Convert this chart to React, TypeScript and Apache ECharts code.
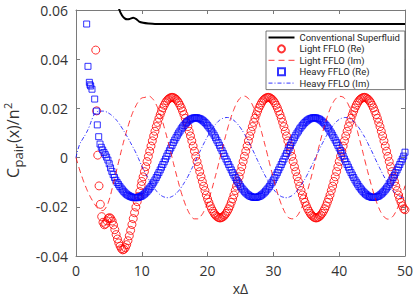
import React, { useEffect, useRef } from "react";
import * as echarts from "echarts";

const xTicks = [0, 10, 20, 30, 40, 50];
const yTicks = [-0.04, -0.02, 0, 0.02, 0.04, 0.06];
const seriesNames = [
  "Conventional Superfluid",
  "Light FFLO (Re)",
  "Light FFLO (Im)",
  "Heavy FFLO (Re)",
  "Heavy FFLO (Im)",
];

const conventional = [
  [6.2, 0.065], [6.6, 0.06], [7.0, 0.0578], [7.4, 0.0566], [7.8, 0.0562], [8.2, 0.0564], [8.7, 0.0568],
  [9.2, 0.0562], [9.6, 0.0553], [10.2, 0.0548], [11.0, 0.0545], [12.0, 0.0543], [15.0, 0.0543],
  [20, 0.0543], [30, 0.0543], [40, 0.0543], [50, 0.0543],
];

const lightRe = [
  [3.0, 0.0437], [3.14, 0.019], [3.3, 0.001], [3.5, -0.0115], [3.7, -0.019], [3.9, -0.024], [4.1, -0.0263], [4.3, -0.0273],
  [4.5, -0.027], [4.7, -0.0257], [4.9, -0.0247], [5.1, -0.0244], [5.3, -0.0248], [5.5, -0.0258], [5.7, -0.0274], [5.9, -0.0293],
  [6.1, -0.0313], [6.3, -0.0331], [6.5, -0.0347], [6.7, -0.036], [6.9, -0.037], [7.1, -0.0375], [7.3, -0.0373], [7.5, -0.0366],
  [7.7, -0.0354], [7.9, -0.0338], [8.1, -0.0318], [8.3, -0.0296], [8.5, -0.0272], [8.7, -0.0248], [8.9, -0.0224], [9.1, -0.0201],
  [9.3, -0.0179], [9.5, -0.0158], [9.7, -0.0138], [9.9, -0.0114],
  [10.0, -0.0097], [10.2, -0.0078], [10.4, -0.0057], [10.6, -0.0037], [10.8, -0.0016], [11.0, 0.0005], [11.2, 0.0026], [11.4, 0.0047],
  [11.6, 0.0068], [11.8, 0.0088], [12.0, 0.0107], [12.2, 0.0126], [12.4, 0.0143], [12.6, 0.016], [12.8, 0.0175], [13.0, 0.0189],
  [13.2, 0.0202], [13.4, 0.0213], [13.6, 0.0223], [13.8, 0.0231], [14.0, 0.0237], [14.2, 0.0241], [14.4, 0.0244],
  [14.6, 0.0245], [14.8, 0.0244], [15.0, 0.0241], [15.2, 0.0237], [15.4, 0.0231], [15.6, 0.0223], [15.8, 0.0213], [16.0, 0.0202],
  [16.2, 0.0189], [16.4, 0.0175], [16.6, 0.016], [16.8, 0.0143], [17.0, 0.0126], [17.2, 0.0107], [17.4, 0.0088], [17.6, 0.0068],
  [17.8, 0.0047], [18.0, 0.0026], [18.2, 0.0005], [18.4, -0.0016], [18.6, -0.0037], [18.8, -0.0057], [19.0, -0.0078], [19.2, -0.0097],
  [19.4, -0.0116], [19.6, -0.0134], [19.8, -0.0152], [20.0, -0.0168], [20.2, -0.0182], [20.4, -0.0196], [20.6, -0.0208], [20.8, -0.0218],
  [21.0, -0.0227], [21.2, -0.0234], [21.4, -0.0239], [21.6, -0.0243], [21.8, -0.0245],
  [22.0, -0.0245], [22.2, -0.0243], [22.4, -0.0239], [22.6, -0.0234], [22.8, -0.0227], [23.0, -0.0218], [23.2, -0.0208], [23.4, -0.0196],
  [23.6, -0.0182], [23.8, -0.0168], [24.0, -0.0152], [24.2, -0.0134], [24.4, -0.0116], [24.6, -0.0097], [24.8, -0.0078], [25.0, -0.0057],
  [25.2, -0.0037], [25.4, -0.0016], [25.6, 0.0005], [25.8, 0.0026], [26.0, 0.0047], [26.2, 0.0068], [26.4, 0.0088], [26.6, 0.0107],
  [26.8, 0.0126], [27.0, 0.0143], [27.2, 0.016], [27.4, 0.0175], [27.6, 0.0189], [27.8, 0.0202], [28.0, 0.0213], [28.2, 0.0223],
  [28.4, 0.0231], [28.6, 0.0237], [28.8, 0.0241], [29.0, 0.0244],
  [29.2, 0.0245], [29.4, 0.0244], [29.6, 0.0241], [29.8, 0.0237], [30.0, 0.0231], [30.2, 0.0223], [30.4, 0.0213], [30.6, 0.0202],
  [30.8, 0.0189], [31.0, 0.0175], [31.2, 0.016], [31.4, 0.0143], [31.6, 0.0126], [31.8, 0.0107], [32.0, 0.0088], [32.2, 0.0068],
  [32.4, 0.0047], [32.6, 0.0026], [32.8, 0.0005], [33.0, -0.0016], [33.2, -0.0037], [33.4, -0.0057], [33.6, -0.0078], [33.8, -0.0097],
  [34.0, -0.0116], [34.2, -0.0134], [34.4, -0.0152], [34.6, -0.0168], [34.8, -0.0182], [35.0, -0.0196], [35.2, -0.0208], [35.4, -0.0218],
  [35.6, -0.0227], [35.8, -0.0234], [36.0, -0.0239], [36.2, -0.0243], [36.4, -0.0245],
  [36.6, -0.0245], [36.8, -0.0243], [37.0, -0.0239], [37.2, -0.0234], [37.4, -0.0227], [37.6, -0.0218], [37.8, -0.0208], [38.0, -0.0196],
  [38.2, -0.0182], [38.4, -0.0168], [38.6, -0.0152], [38.8, -0.0134], [39.0, -0.0116], [39.2, -0.0097], [39.4, -0.0078], [39.6, -0.0057],
  [39.8, -0.0037], [40.0, -0.0016], [40.2, 0.0005], [40.4, 0.0026], [40.6, 0.0047], [40.8, 0.0068], [41.0, 0.0088], [41.2, 0.0107],
  [41.4, 0.0126], [41.6, 0.0143], [41.8, 0.016], [42.0, 0.0175], [42.2, 0.0189], [42.4, 0.0202], [42.6, 0.0213], [42.8, 0.0223],
  [43.0, 0.0231], [43.2, 0.0237], [43.4, 0.0241], [43.6, 0.0244],
  [43.8, 0.0245], [44.0, 0.0244], [44.2, 0.0241], [44.4, 0.0237], [44.6, 0.0231], [44.8, 0.0223], [45.0, 0.0213], [45.2, 0.0202],
  [45.4, 0.0189], [45.6, 0.0175], [45.8, 0.016], [46.0, 0.0143], [46.2, 0.0126], [46.4, 0.0107], [46.6, 0.0088], [46.8, 0.0068],
  [47.0, 0.0047], [47.2, 0.0026], [47.4, 0.0005], [47.6, -0.0016], [47.8, -0.0037], [48.0, -0.0057], [48.2, -0.0078], [48.4, -0.0097],
  [48.6, -0.0116], [48.8, -0.0134], [49.0, -0.0152], [49.2, -0.0168], [49.4, -0.0182], [49.6, -0.0196], [49.8, -0.0208], [50.0, -0.0212],
];

const lightIm = [
  [0, 0], [0.5, -0.0045], [1.0, -0.0085], [1.5, -0.012], [2.0, -0.015], [2.5, -0.0175], [3.0, -0.0196], [3.5, -0.021],
  [4.0, -0.0215], [4.5, -0.0205], [5.0, -0.0175], [5.5, -0.0125], [6.0, -0.007], [6.5, -0.0015], [7.0, 0.004], [7.5, 0.009],
  [8.0, 0.0135], [8.5, 0.0175], [9.0, 0.0205], [9.5, 0.0228], [10.0, 0.0242], [10.5, 0.0245], [11.0, 0.025], [11.5, 0.0243],
  [12.0, 0.0225], [12.5, 0.0196], [13.0, 0.0159], [13.5, 0.0114], [14.0, 0.0064], [14.5, 0.0011], [15.0, -0.0043], [15.5, -0.0094],
  [16.0, -0.0142], [16.5, -0.0182], [17.0, -0.0215], [17.5, -0.0237], [18.0, -0.0249], [18.5, -0.0249], [19.0, -0.0237], [19.5, -0.0215],
  [20.0, -0.0182], [20.5, -0.0142], [21.0, -0.0094], [21.5, -0.0043], [22.0, 0.0011], [22.5, 0.0064], [23.0, 0.0114], [23.5, 0.0159],
  [24.0, 0.0196], [24.5, 0.0225], [25.0, 0.0243], [25.5, 0.025], [26.0, 0.0245], [26.5, 0.0229], [27.0, 0.0203], [27.5, 0.0167],
  [28.0, 0.0123], [28.5, 0.0074], [29.0, 0.0022], [29.5, -0.0032], [30.0, -0.0084], [30.5, -0.0133], [31.0, -0.0175], [31.5, -0.0209],
  [32.0, -0.0233], [32.5, -0.0247], [33.0, -0.0249], [33.5, -0.024], [34.0, -0.022], [34.5, -0.019], [35.0, -0.015], [35.5, -0.0104],
  [36.0, -0.0053], [36.5, 0.0], [37.0, 0.0053], [37.5, 0.0104], [38.0, 0.015], [38.5, 0.019], [39.0, 0.022], [39.5, 0.024],
  [40.0, 0.0249], [40.5, 0.0247], [41.0, 0.0233], [41.5, 0.0209], [42.0, 0.0175], [42.5, 0.0133], [43.0, 0.0084], [43.5, 0.0032],
  [44.0, -0.0022], [44.5, -0.0074], [45.0, -0.0123], [45.5, -0.0167], [46.0, -0.0203], [46.5, -0.0229], [47.0, -0.0245], [47.5, -0.025],
  [48.0, -0.0243], [48.5, -0.0225], [49.0, -0.0196], [49.5, -0.0159], [50.0, -0.0114],
];

const heavyRe = [
  [1.62, 0.0543], [1.82, 0.0371], [2.03, 0.0306], [2.13, 0.0296], [2.23, 0.0291], [2.43, 0.0278], [2.84, 0.0238], [3.09, 0.0189],
  [3.24, 0.0133], [3.45, 0.0085], [3.65, 0.0055], [3.85, 0.0042], [4.05, 0.0031], [4.25, 0.0021], [4.45, 0.0012], [4.65, 0.0002],
  [4.85, -0.001], [5.05, -0.0025], [5.25, -0.0042], [5.45, -0.0056], [5.65, -0.0069], [5.85, -0.0081], [6.05, -0.0092], [6.25, -0.0101],
  [6.45, -0.0109], [6.65, -0.0117], [6.85, -0.0124], [7.05, -0.0131], [7.25, -0.0137], [7.45, -0.0143], [7.65, -0.0148], [7.85, -0.0152],
  [8.05, -0.0155], [8.25, -0.0158], [8.45, -0.016], [8.65, -0.0162], [8.85, -0.0163], [9.05, -0.0163], [9.25, -0.0163], [9.45, -0.0162],
  [9.6, -0.016], [9.8, -0.0158], [10.0, -0.0156], [10.2, -0.0152], [10.4, -0.0148], [10.6, -0.0143], [10.8, -0.0137], [11.0, -0.0131],
  [11.2, -0.0124], [11.4, -0.0117], [11.6, -0.0108], [11.8, -0.01], [12.0, -0.0091], [12.2, -0.0081], [12.4, -0.0071], [12.6, -0.0061],
  [12.8, -0.005], [13.0, -0.0039], [13.2, -0.0028], [13.4, -0.0017], [13.6, -0.0006], [13.8, 0.0006], [14.0, 0.0017], [14.2, 0.0028],
  [14.4, 0.0039], [14.6, 0.005], [14.8, 0.0061], [15.0, 0.0071], [15.2, 0.0081], [15.4, 0.0091], [15.6, 0.01], [15.8, 0.0108],
  [16.0, 0.0117], [16.2, 0.0124], [16.4, 0.0131], [16.6, 0.0137], [16.8, 0.0143], [17.0, 0.0148], [17.2, 0.0152], [17.4, 0.0156],
  [17.6, 0.0158], [17.8, 0.016], [18.0, 0.0162],
  [18.2, 0.0162], [18.4, 0.0162], [18.6, 0.016], [18.8, 0.0158], [19.0, 0.0156], [19.2, 0.0152], [19.4, 0.0148], [19.6, 0.0143],
  [19.8, 0.0137], [20.0, 0.0131], [20.2, 0.0124], [20.4, 0.0117], [20.6, 0.0108], [20.8, 0.01], [21.0, 0.0091], [21.2, 0.0081],
  [21.4, 0.0071], [21.6, 0.0061], [21.8, 0.005], [22.0, 0.0039], [22.2, 0.0028], [22.4, 0.0017], [22.6, 0.0006], [22.8, -0.0006],
  [23.0, -0.0017], [23.2, -0.0028], [23.4, -0.0039], [23.6, -0.005], [23.8, -0.0061], [24.0, -0.0071], [24.2, -0.0081], [24.4, -0.0091],
  [24.6, -0.01], [24.8, -0.0108], [25.0, -0.0117], [25.2, -0.0124], [25.4, -0.0131], [25.6, -0.0137], [25.8, -0.0143], [26.0, -0.0148],
  [26.2, -0.0152], [26.4, -0.0156], [26.6, -0.0158], [26.8, -0.016], [27.0, -0.0162], [27.2, -0.0162],
  [27.4, -0.0162], [27.6, -0.016], [27.8, -0.0158], [28.0, -0.0156], [28.2, -0.0152], [28.4, -0.0148], [28.6, -0.0143], [28.8, -0.0137],
  [29.0, -0.0131], [29.2, -0.0124], [29.4, -0.0117], [29.6, -0.0108], [29.8, -0.01], [30.0, -0.0091], [30.2, -0.0081], [30.4, -0.0071],
  [30.6, -0.0061], [30.8, -0.005], [31.0, -0.0039], [31.2, -0.0028], [31.4, -0.0017], [31.6, -0.0006], [31.8, 0.0006], [32.0, 0.0017],
  [32.2, 0.0028], [32.4, 0.0039], [32.6, 0.005], [32.8, 0.0061], [33.0, 0.0071], [33.2, 0.0081], [33.4, 0.0091], [33.6, 0.01],
  [33.8, 0.0108], [34.0, 0.0117], [34.2, 0.0124], [34.4, 0.0131], [34.6, 0.0137], [34.8, 0.0143], [35.0, 0.0148], [35.2, 0.0152],
  [35.4, 0.0156], [35.6, 0.0158], [35.8, 0.016], [36.0, 0.0162],
  [36.2, 0.0162], [36.4, 0.0162], [36.6, 0.016], [36.8, 0.0158], [37.0, 0.0156], [37.2, 0.0152], [37.4, 0.0148], [37.6, 0.0143],
  [37.8, 0.0137], [38.0, 0.0131], [38.2, 0.0124], [38.4, 0.0117], [38.6, 0.0108], [38.8, 0.01], [39.0, 0.0091], [39.2, 0.0081],
  [39.4, 0.0071], [39.6, 0.0061], [39.8, 0.005], [40.0, 0.0039], [40.2, 0.0028], [40.4, 0.0017], [40.6, 0.0006], [40.8, -0.0006],
  [41.0, -0.0017], [41.2, -0.0028], [41.4, -0.0039], [41.6, -0.005], [41.8, -0.0061], [42.0, -0.0071], [42.2, -0.0081], [42.4, -0.0091],
  [42.6, -0.01], [42.8, -0.0108], [43.0, -0.0117], [43.2, -0.0124], [43.4, -0.0131], [43.6, -0.0137], [43.8, -0.0143], [44.0, -0.0148],
  [44.2, -0.0152], [44.4, -0.0156], [44.6, -0.0158], [44.8, -0.016], [45.0, -0.0162], [45.2, -0.0162],
  [45.4, -0.0162], [45.6, -0.016], [45.8, -0.0158], [46.0, -0.0156], [46.2, -0.0152], [46.4, -0.0148], [46.6, -0.0143], [46.8, -0.0137],
  [47.0, -0.0131], [47.2, -0.0124], [47.4, -0.0117], [47.6, -0.0108], [47.8, -0.01], [48.0, -0.0091], [48.2, -0.0081], [48.4, -0.0071],
  [48.6, -0.0061], [48.8, -0.005], [49.0, -0.0039], [49.2, -0.0028], [49.4, -0.0017], [49.6, -0.0006], [49.8, 0.0006], [50.0, 0.0022],
];

const heavyIm = [
  [0, 0], [0.5, 0.005], [1.0, 0.0075], [1.5, 0.0097], [2.0, 0.0125], [2.5, 0.016], [3.0, 0.0183], [3.5, 0.0188],
  [4.0, 0.0189], [4.5, 0.0187], [5.0, 0.018], [5.5, 0.017], [6.0, 0.0157], [6.5, 0.014], [7.0, 0.012], [7.5, 0.0098],
  [8.0, 0.0075], [8.5, 0.005], [9.0, 0.0025], [9.5, -0.0004],
  [10.0, -0.0034], [10.5, -0.0061], [11.0, -0.0086], [11.5, -0.0109], [12.0, -0.0128], [12.5, -0.0144], [13.0, -0.0155], [13.5, -0.0161],
  [14.0, -0.0163], [14.5, -0.0159], [15.0, -0.0151], [15.5, -0.0138], [16.0, -0.0121], [16.5, -0.01], [17.0, -0.0077], [17.5, -0.005],
  [18.0, -0.0023], [18.5, 0.0006], [19.0, 0.0034], [19.5, 0.0061], [20.0, 0.0086], [20.5, 0.0109], [21.0, 0.0128], [21.5, 0.0144],
  [22.0, 0.0155], [22.5, 0.0161], [23.0, 0.0163], [23.5, 0.0159], [24.0, 0.0151], [24.5, 0.0138], [25.0, 0.0121], [25.5, 0.01],
  [26.0, 0.0077], [26.5, 0.005], [27.0, 0.0023], [27.5, -0.0006],
  [28.0, -0.0034], [28.5, -0.0061], [29.0, -0.0086], [29.5, -0.0109], [30.0, -0.0128], [30.5, -0.0144], [31.0, -0.0155], [31.5, -0.0161],
  [32.0, -0.0163], [32.5, -0.0159], [33.0, -0.0151], [33.5, -0.0138], [34.0, -0.0121], [34.5, -0.01], [35.0, -0.0077], [35.5, -0.005],
  [36.0, -0.0023], [36.5, 0.0006], [37.0, 0.0034], [37.5, 0.0061], [38.0, 0.0086], [38.5, 0.0109], [39.0, 0.0128], [39.5, 0.0144],
  [40.0, 0.0155], [40.5, 0.0161], [41.0, 0.0163], [41.5, 0.0159], [42.0, 0.0151], [42.5, 0.0138], [43.0, 0.0121], [43.5, 0.01],
  [44.0, 0.0077], [44.5, 0.005], [45.0, 0.0023], [45.5, -0.0006],
  [46.0, -0.0034], [46.5, -0.0061], [47.0, -0.0086], [47.5, -0.0109], [48.0, -0.0128], [48.5, -0.0144], [49.0, -0.0155], [49.5, -0.0161],
  [50.0, -0.0163],
];

const FONT = "'Open Sans', 'Noto Sans', sans-serif";
const LEGEND_FONT = "Roboto, 'Liberation Sans', sans-serif";
const AXIS_COLOR = "#7a7a7a";
const TEXT_COLOR = "#333333";

function fmtY(v: number) {
  const r = Math.round(v * 100) / 100;
  return r === 0 ? "0" : r.toFixed(2);
}

export default function App() {
  const ref = useRef<HTMLDivElement>(null);
  useEffect(() => {
    if (!ref.current) return;
    const chart = echarts.init(ref.current, null, { renderer: "svg" });
    const xMin = xTicks[0];
    const xMax = xTicks[xTicks.length - 1];
    const xInt = xTicks[1] - xTicks[0];
    const yMin = yTicks[0];
    const yMax = yTicks[yTicks.length - 1];
    const yInt = yTicks[1] - yTicks[0];
    const frameAxis = {
      axisLine: { show: true, onZero: false, lineStyle: { color: AXIS_COLOR, width: 1 } },
      axisTick: { show: true, inside: true, length: 4, lineStyle: { color: AXIS_COLOR, width: 1 } },
      splitLine: { show: false },
    };
    const hiddenSymbol = { opacity: 0 };
    const option: any = {
      animation: false,
      backgroundColor: "#ffffff",
      textStyle: { fontFamily: FONT },
      grid: { left: 76, right: 10, top: 10, bottom: 44, containLabel: false, outerBoundsMode: "none" },
      xAxis: [
        {
          type: "value", min: xMin, max: xMax, interval: xInt, position: "bottom",
          ...frameAxis,
          axisLabel: { fontSize: 14, color: TEXT_COLOR, margin: 7, fontFamily: FONT },
          name: "x\u0394", nameLocation: "middle", nameGap: 25,
          nameTextStyle: { fontSize: 14, color: TEXT_COLOR, fontFamily: FONT },
        },
        {
          type: "value", min: xMin, max: xMax, interval: xInt, position: "top",
          ...frameAxis, axisLabel: { show: false },
        },
      ],
      yAxis: [
        {
          type: "value", min: yMin, max: yMax, interval: yInt, position: "left",
          ...frameAxis,
          axisLabel: { fontSize: 14, color: TEXT_COLOR, margin: 8, fontFamily: FONT, formatter: fmtY },
        },
        {
          type: "value", min: yMin, max: yMax, interval: yInt, position: "right",
          ...frameAxis, axisLabel: { show: false },
        },
      ],
      legend: {
        orient: "vertical", left: 266, top: 31,
        itemWidth: 26, itemHeight: 7, itemGap: 1.4,
        padding: [1.5, 5, 1.5, 1.5],
        symbolKeepAspect: true,
        backgroundColor: "#ffffff", borderColor: "#555555", borderWidth: 0.8, borderRadius: 0,
        textStyle: { fontSize: 9.5, color: "#262626", fontFamily: LEGEND_FONT },
        data: [
          { name: seriesNames[0], itemStyle: hiddenSymbol, lineStyle: { width: 2, color: "#000000" } },
          { name: seriesNames[1], icon: "circle" },
          { name: seriesNames[2], itemStyle: hiddenSymbol, lineStyle: { width: 0.8, color: "#ff0000", type: [6, 4] } },
          { name: seriesNames[3], icon: "path://M0,0H10V10H0Z" },
          { name: seriesNames[4], itemStyle: hiddenSymbol, lineStyle: { width: 0.8, color: "#0000ff", type: [4, 2, 1, 2] } },
        ],
      },
      graphic: [
        {
          type: "group", x: 13, y: 178, rotation: Math.PI / 2, silent: true,
          children: [
            { type: "text", x: 0, y: 0, style: { text: "C", fontSize: 16, fontFamily: FONT, fill: TEXT_COLOR, verticalAlign: "middle" } },
            { type: "text", x: 10.5, y: 5, style: { text: "pair", fontSize: 13, fontFamily: FONT, fill: TEXT_COLOR, verticalAlign: "middle" } },
            { type: "text", x: 35, y: 0, style: { text: "(x)/n", fontSize: 16, fontFamily: FONT, fill: TEXT_COLOR, verticalAlign: "middle" } },
            { type: "text", x: 69, y: -6, style: { text: "2", fontSize: 11, fontFamily: FONT, fill: TEXT_COLOR, verticalAlign: "middle" } },
          ],
        },
      ],
      series: [
        {
          name: seriesNames[0], type: "line", data: conventional, symbol: "none", smooth: 0.3,
          lineStyle: { color: "#000000", width: 2 }, itemStyle: { color: "#000000" }, z: 5,
        },
        {
          name: seriesNames[1], type: "scatter", data: lightRe, symbol: "circle", symbolSize: 8,
          itemStyle: { color: "rgba(0,0,0,0)", borderColor: "#ff0000", borderWidth: 1 }, z: 2,
        },
        {
          name: seriesNames[2], type: "line", data: lightIm, symbol: "none", smooth: true,
          lineStyle: { color: "#ff0000", width: 0.8, type: [6, 4] }, itemStyle: { color: "#ff0000" }, z: 3,
        },
        {
          name: seriesNames[3], type: "scatter", data: heavyRe, symbol: "rect", symbolSize: 6,
          itemStyle: { color: "rgba(0,0,0,0)", borderColor: "#0000ff", borderWidth: 1 }, z: 2,
        },
        {
          name: seriesNames[4], type: "line", data: heavyIm, symbol: "none", smooth: true,
          lineStyle: { color: "#0000ff", width: 0.8, type: [4, 2, 1, 2] }, itemStyle: { color: "#0000ff" }, z: 3,
        },
      ],
    };
    chart.setOption(option);
    return () => chart.dispose();
  }, []);
  return (
    <div
      ref={ref}
      style={{ position: "fixed", left: 0, top: 0, width: 415, height: 300, background: "#fff" }}
    />
  );
}
